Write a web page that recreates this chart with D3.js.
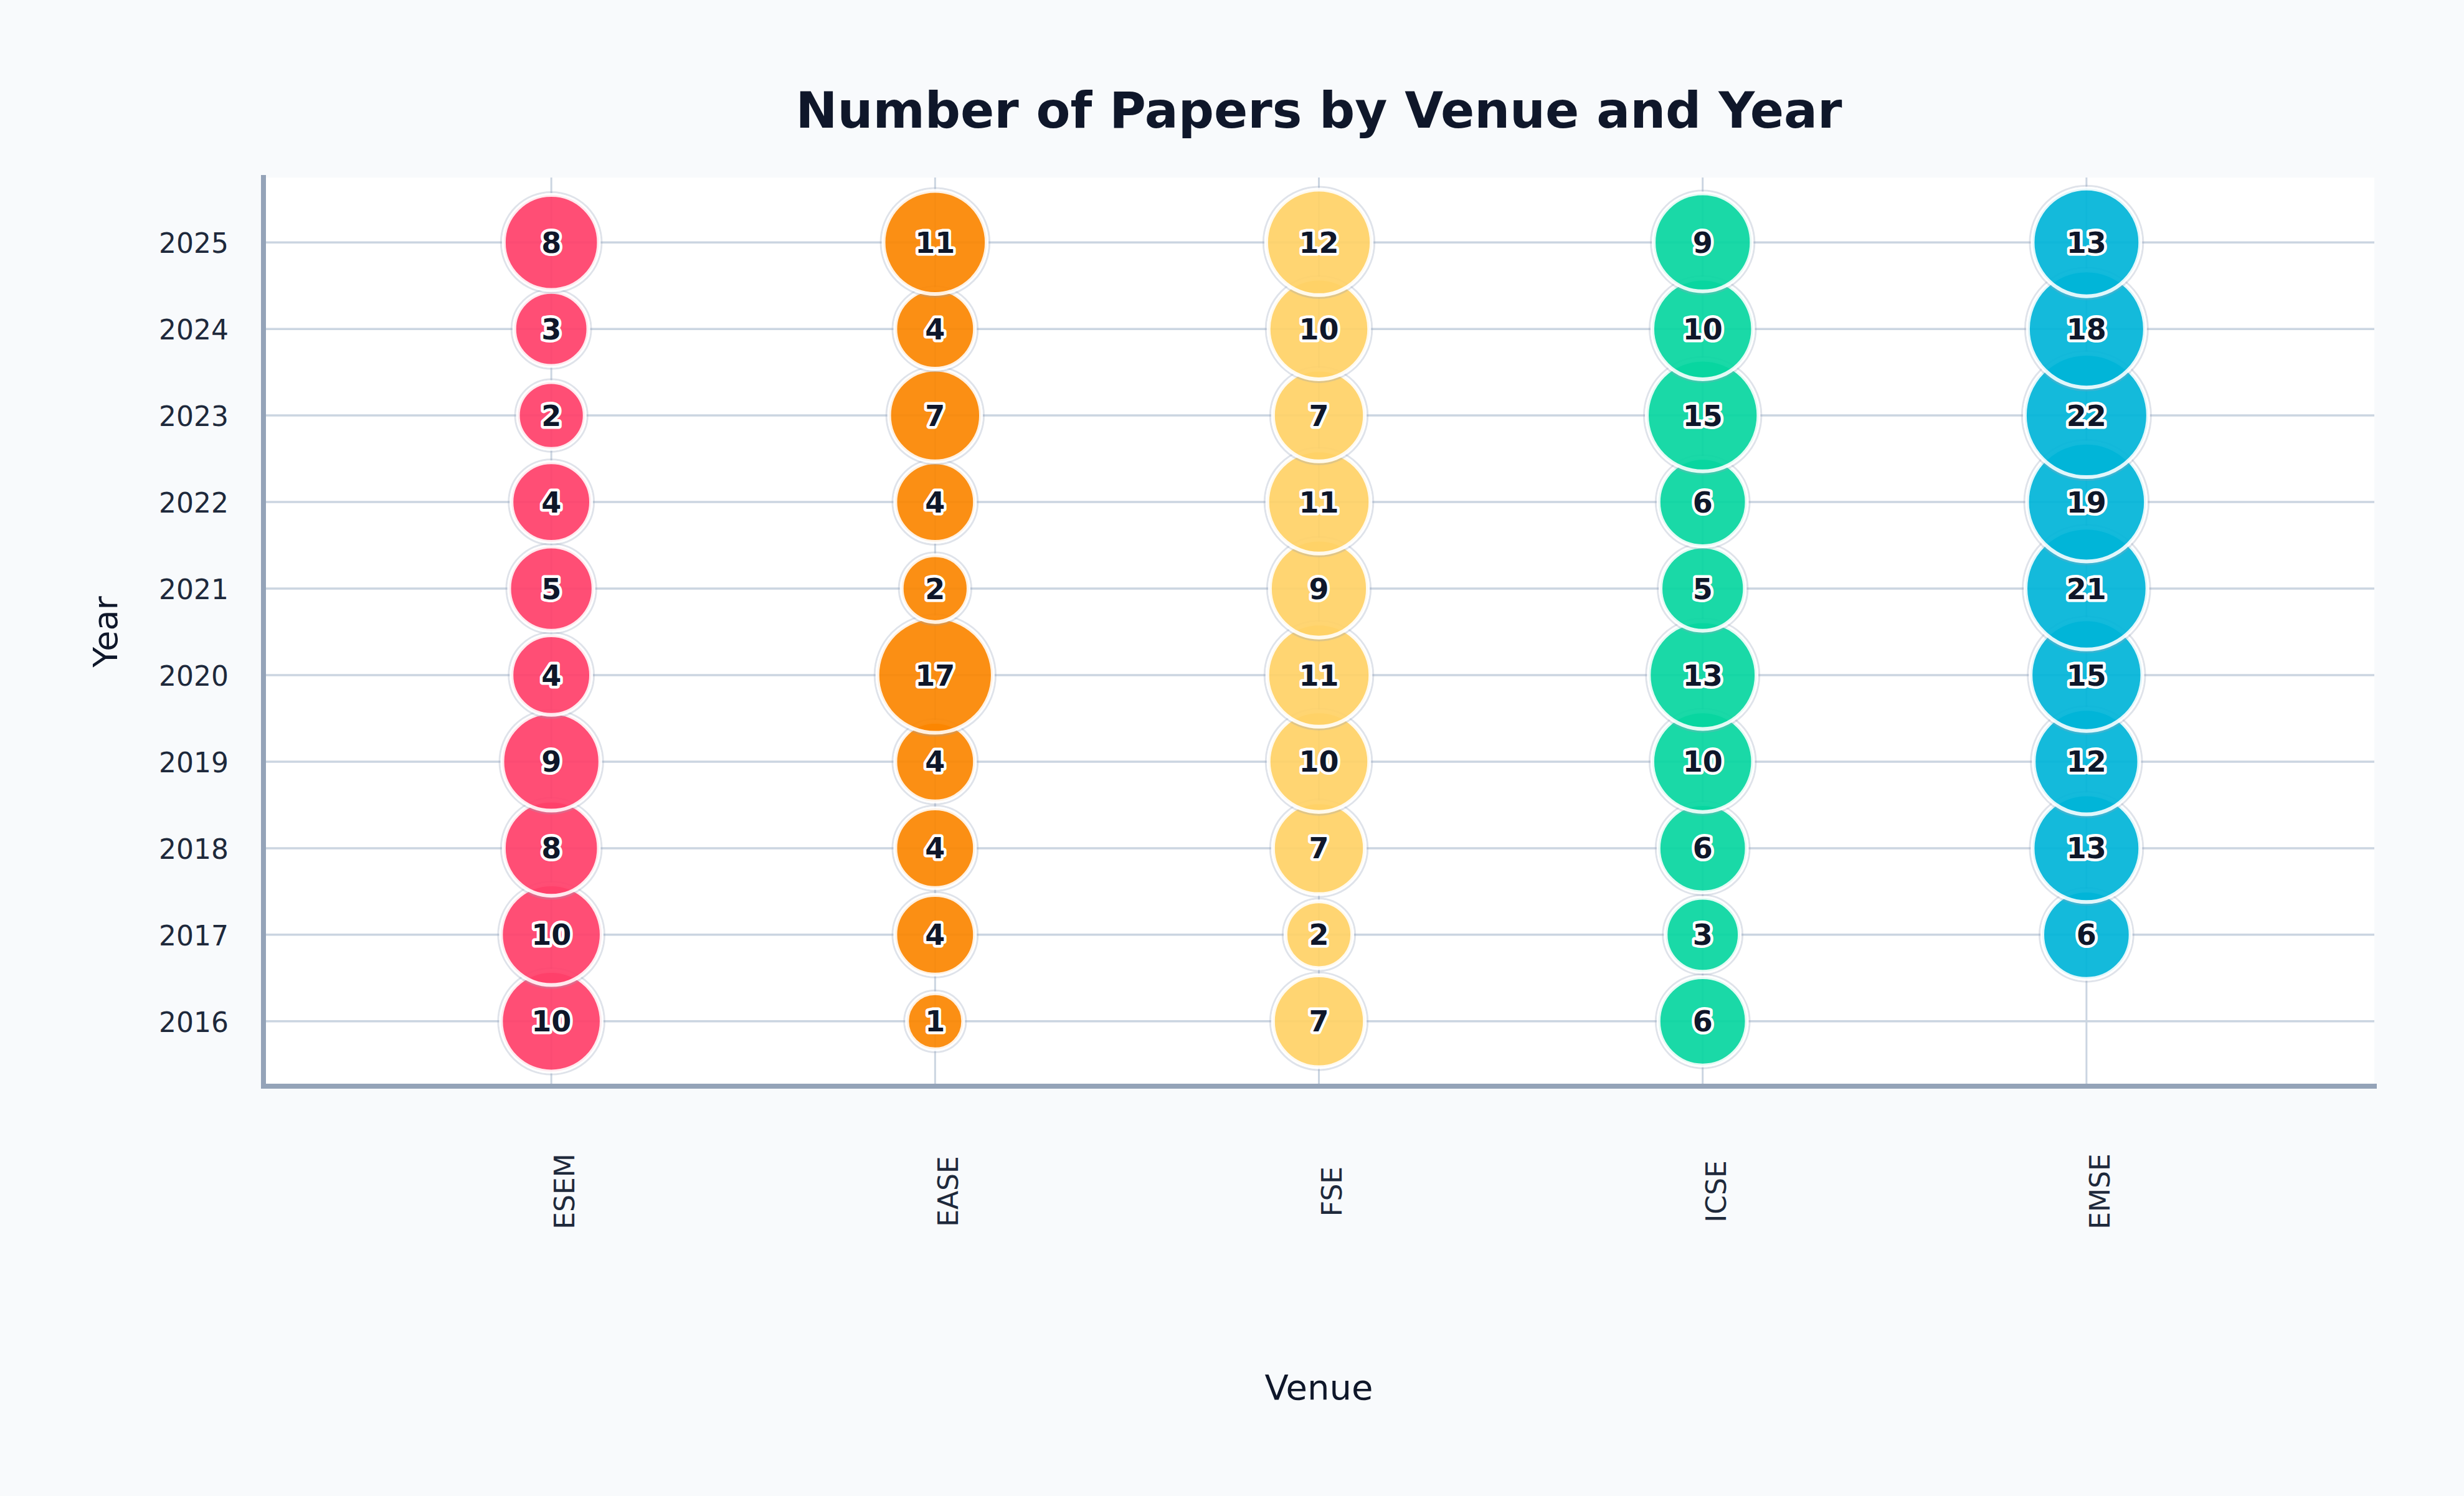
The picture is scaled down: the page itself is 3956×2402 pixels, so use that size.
<!DOCTYPE html>
<html>
<head>
<meta charset="utf-8">
<script src="https://cdn.jsdelivr.net/npm/d3@7"></script>
<style>
  body { margin: 0; background: #f8fafc; }
  text { font-family: "DejaVu Sans", sans-serif; }
</style>
</head>
<body>
<div id="chart"></div>
<script>
// data
var venues = ['ESEM', 'EASE', 'FSE', 'ICSE', 'EMSE'];
var years = [2016, 2017, 2018, 2019, 2020, 2021, 2022, 2023, 2024, 2025];
// papers per year, same order as years (null = no papers)
var esem = [10, 10, 8, 9, 4, 5, 4, 2, 3, 8];
var ease = [1, 4, 4, 4, 17, 2, 4, 7, 4, 11];
var fse = [7, 2, 7, 10, 11, 9, 11, 7, 10, 12];
var icse = [6, 3, 6, 10, 13, 5, 6, 15, 10, 9];
var emse = [null, 6, 13, 12, 15, 21, 19, 22, 18, 13];
var venueColors = ['#ff3f69', '#fb8500', '#ffd166', '#06d6a0', '#00b4d8'];

var seriesList = [esem, ease, fse, icse, emse];

// size of the page
var svgWidth = 3956;
var svgHeight = 2402;

var plot = { left: 423, right: 3812, top: 285, bottom: 1744 };

var svg = d3.select('#chart').append('svg')
    .attr('width', svgWidth)
    .attr('height', svgHeight)
    .style('display', 'block');

svg.append('rect')
    .attr('width', svgWidth)
    .attr('height', svgHeight)
    .attr('fill', '#f8fafc');

svg.append('rect')
    .attr('x', plot.left)
    .attr('y', plot.top)
    .attr('width', plot.right - plot.left)
    .attr('height', plot.bottom - plot.top)
    .attr('fill', '#ffffff');

// scales
var xscale = d3.scalePoint()
    .domain(venues)
    .range([plot.left, plot.right])
    .padding(0.75);

var yscale = d3.scalePoint()
    .domain(years.slice().reverse())
    .range([plot.top, plot.bottom])
    .padding(0.75);

var rscale = d3.scalePow()
    .exponent(0.267)
    .domain([0, 22])
    .range([0, 96]);

// flatten into points, drawn by year ascending so later years sit on top
var points = [];
venues.forEach(function (v, i) {
    years.forEach(function (yr, j) {
        var val = seriesList[i][j];
        if (val != null) {
            points.push({ venue: v, year: yr, value: val, color: venueColors[i] });
        }
    });
});

// gridlines
svg.append('g').selectAll('line')
    .data(years)
    .enter()
    .append('line')
    .attr('x1', plot.left)
    .attr('x2', plot.right)
    .attr('y1', d => yscale(d))
    .attr('y2', d => yscale(d))
    .attr('stroke', '#cbd5e1')
    .attr('stroke-width', 3.5);

svg.append('g').selectAll('line')
    .data(venues)
    .enter()
    .append('line')
    .attr('x1', d => xscale(d))
    .attr('x2', d => xscale(d))
    .attr('y1', plot.top)
    .attr('y2', plot.bottom)
    .attr('stroke', '#cbd5e1')
    .attr('stroke-width', 3);

// bubbles
var bubble = svg.append('g').selectAll('g')
    .data(points)
    .enter()
    .append('g')
    .attr('transform', d => `translate(${xscale(d.venue)}, ${yscale(d.year)})`);

bubble.append('circle')
    .attr('r', d => rscale(d.value) + 7.5)
    .attr('fill', 'none')
    .attr('stroke', '#94a3b8')
    .attr('stroke-opacity', 0.3)
    .attr('stroke-width', 3);

bubble.append('circle')
    .attr('r', d => rscale(d.value) + 3)
    .attr('fill', d => d.color)
    .attr('fill-opacity', 0.92)
    .attr('stroke', '#ffffff')
    .attr('stroke-opacity', 0.88)
    .attr('stroke-width', 6);

bubble.append('text')
    .text(d => d.value)
    .attr('text-anchor', 'middle')
    .attr('dy', '0.36em')
    .attr('font-size', 46)
    .attr('font-weight', 'bold')
    .attr('fill', '#0f172a')
    .attr('stroke', '#ffffff')
    .attr('stroke-width', 9)
    .attr('stroke-linejoin', 'round')
    .style('paint-order', 'stroke');

// axes
var leftaxis = d3.axisLeft(yscale).tickSize(0).tickPadding(56);
var bottomaxis = d3.axisBottom(xscale).tickSize(0);

var yAxisG = svg.append('g')
    .attr('transform', `translate(${plot.left}, 0)`)
    .call(leftaxis);
yAxisG.select('.domain').remove();
yAxisG.selectAll('text')
    .attr('font-size', 44)
    .attr('font-family', '"DejaVu Sans", sans-serif')
    .attr('fill', '#1e293b')
    .attr('dy', '0.37em');

var xAxisG = svg.append('g')
    .attr('transform', `translate(0, ${plot.bottom})`)
    .call(bottomaxis);
xAxisG.select('.domain').remove();
xAxisG.selectAll('text')
    .attr('y', 0)
    .attr('dy', '0.35em')
    .attr('transform', 'translate(21, 169) rotate(-90)')
    .style('text-anchor', 'middle')
    .attr('font-size', 44)
    .attr('font-family', '"DejaVu Sans", sans-serif')
    .attr('fill', '#1e293b');

// axis lines
svg.append('line')
    .attr('x1', plot.left).attr('x2', plot.left)
    .attr('y1', plot.top - 4).attr('y2', plot.bottom)
    .attr('stroke', '#94a3b8')
    .attr('stroke-width', 8);

svg.append('line')
    .attr('x1', plot.left - 4).attr('x2', plot.right + 4)
    .attr('y1', plot.bottom).attr('y2', plot.bottom)
    .attr('stroke', '#94a3b8')
    .attr('stroke-width', 8);

// titles
svg.append('text')
    .attr('x', (plot.left + plot.right) / 2)
    .attr('y', 205)
    .attr('text-anchor', 'middle')
    .attr('font-size', 80)
    .attr('font-weight', 'bold')
    .attr('fill', '#0f172a')
    .text('Number of Papers by Venue and Year');

svg.append('text')
    .attr('x', (plot.left + plot.right) / 2)
    .attr('y', 2247)
    .attr('text-anchor', 'middle')
    .attr('font-size', 56)
    .attr('fill', '#0f172a')
    .text('Venue');

svg.append('text')
    .attr('transform', `translate(188, ${(plot.top + plot.bottom) / 2}) rotate(-90)`)
    .attr('text-anchor', 'middle')
    .attr('font-size', 54)
    .attr('fill', '#0f172a')
    .text('Year');
</script>
</body>
</html>
